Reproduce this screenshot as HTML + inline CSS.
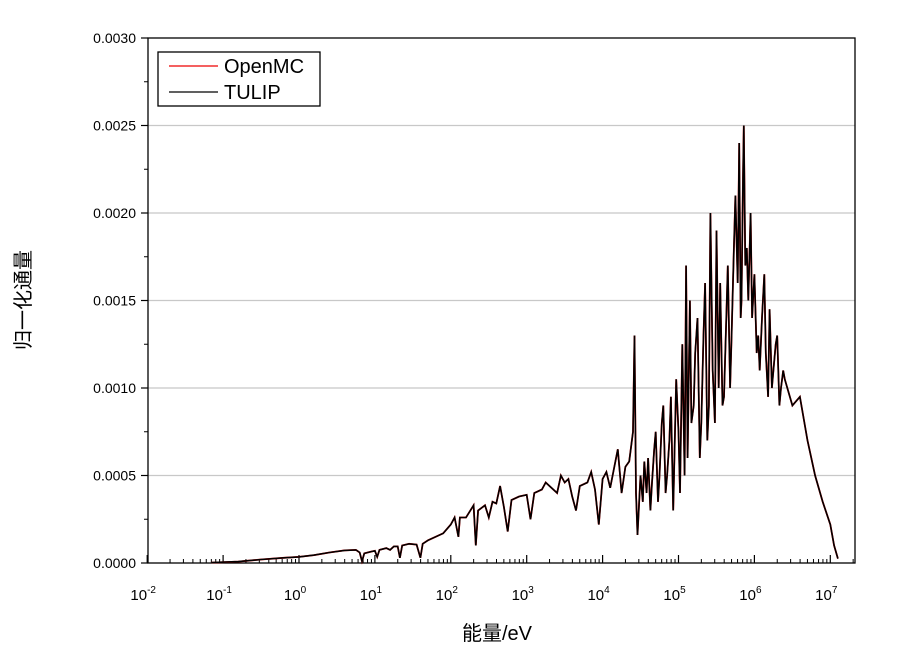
<!DOCTYPE html>
<html><head><meta charset="utf-8"><style>
body{margin:0;background:#fff;}
svg{display:block;font-family:"Liberation Sans","Noto Sans CJK SC",sans-serif;}
</style></head><body>
<svg id="chart" width="914" height="651" viewBox="0 0 914 651">
<g id="grid"></g><g id="axes"></g><g id="series"></g>
<g>
<rect x="158" y="52" width="162" height="54" fill="#fff" stroke="#000" stroke-width="1.3"/>
<line x1="169" y1="66" x2="218" y2="66" stroke="#e00" stroke-width="1.2"/>
<text x="224" y="73" font-size="20">OpenMC</text>
<line x1="169" y1="92" x2="218" y2="92" stroke="#000" stroke-width="1.2"/>
<text x="224" y="99" font-size="20">TULIP</text>
</g>
<text x="497" y="640" font-size="20" text-anchor="middle">能量/eV</text>
<text transform="translate(30,300) rotate(-90)" font-size="20" text-anchor="middle">归一化通量</text>
</svg>
<script>
const logE=[-1.15,-0.8,-0.5,-0.2,0,0.2,0.4,0.6,0.75,0.8,0.83,0.86,0.95,1.0,1.03,1.06,1.15,1.2,1.25,1.3,1.33,1.36,1.45,1.55,1.6,1.63,1.7,1.8,1.9,2.0,2.05,2.1,2.12,2.2,2.3,2.33,2.36,2.45,2.5,2.55,2.6,2.65,2.7,2.75,2.8,2.9,3.0,3.05,3.1,3.2,3.25,3.3,3.4,3.45,3.5,3.55,3.6,3.65,3.7,3.8,3.85,3.9,3.95,4.0,4.05,4.1,4.15,4.2,4.25,4.3,4.35,4.4,4.42,4.44,4.46,4.5,4.53,4.55,4.58,4.6,4.63,4.65,4.68,4.7,4.73,4.75,4.78,4.8,4.83,4.85,4.88,4.9,4.93,4.97,5.0,5.02,5.05,5.08,5.1,5.12,5.15,5.17,5.2,5.22,5.25,5.28,5.3,5.33,5.35,5.38,5.4,5.42,5.45,5.48,5.5,5.53,5.55,5.58,5.6,5.63,5.65,5.68,5.7,5.73,5.75,5.78,5.8,5.82,5.83,5.85,5.86,5.88,5.9,5.92,5.95,5.97,6.0,6.03,6.05,6.07,6.1,6.13,6.15,6.18,6.2,6.23,6.25,6.28,6.3,6.33,6.35,6.38,6.4,6.5,6.6,6.7,6.8,6.9,7.0,7.05,7.1];
const tulip=[0.02,0.08,0.2,0.3,0.35,0.45,0.6,0.72,0.75,0.6,0.1,0.55,0.65,0.7,0.35,0.75,0.85,0.75,0.95,0.95,0.3,1.0,1.1,1.05,0.3,1.1,1.3,1.5,1.7,2.2,2.6,1.5,2.6,2.6,3.3,1.0,3.0,3.3,2.6,3.5,3.4,4.4,3.2,1.8,3.6,3.8,3.9,2.5,4.0,4.2,4.6,4.4,4.0,5.0,4.6,4.8,3.8,3.0,4.4,4.6,5.2,4.2,2.2,4.8,5.2,4.3,5.4,6.5,4.0,5.5,5.8,7.5,13.0,4.0,1.6,5.0,3.5,5.8,4.0,6.0,3.0,4.5,6.5,7.5,3.5,5.0,8.0,9.0,4.0,5.0,7.0,9.5,3.0,10.5,7.5,4.0,12.5,5.0,17.0,6.0,15.0,8.0,9.0,12.0,14.0,6.0,8.0,13.0,16.0,7.0,9.0,20.0,11.0,8.0,19.0,10.0,16.0,9.0,9.5,14.0,17.0,10.0,13.0,18.0,21.0,16.0,24.0,14.0,15.0,22.0,25.0,17.0,18.0,15.0,20.0,14.0,16.5,12.0,13.0,11.0,14.0,16.5,12.0,9.5,14.5,10.0,11.0,12.5,13.0,9.0,10.0,11.0,10.5,9.0,9.5,7.0,5.0,3.5,2.2,1.0,0.25,0.05,0];
const openmc=tulip.map(v=>v);
const yTicks=["0.0000","0.0005","0.0010","0.0015","0.0020","0.0025","0.0030"];
const xExps=[-2,-1,0,1,2,3,4,5,6,7];
const NS="http://www.w3.org/2000/svg";
const L=148,R=855,T=38,B=563;
const xs=l=>299+(l)*75.9;
const ys=v=>B-(v*1e-4)/0.003*(B-T);
function mk(tag,attrs,parent){const e=document.createElementNS(NS,tag);for(const k in attrs)e.setAttribute(k,attrs[k]);parent.appendChild(e);return e;}
const grid=document.getElementById('grid'),axes=document.getElementById('axes'),ser=document.getElementById('series');
yTicks.forEach((t,i)=>{const v=parseFloat(t)*1e4;const y=ys(v);
 if(i>0&&i<yTicks.length-1){const g=mk('line',{x1:L,x2:R,y1:y,y2:y,stroke:'#c8c8c8','stroke-width':1.3},grid);
 
 }
 const tk=mk('line',{x1:L-7,x2:L,y1:y,y2:y,stroke:'#000','stroke-width':1.2},axes);
 
 
 if(i<yTicks.length-1){const m=ys(v+2.5);const mt=mk('line',{x1:L-4,x2:L,y1:m,y2:m,stroke:'#000','stroke-width':1},axes);
 
 }
 const tx=mk('text',{x:L-12,y:y+5,'font-size':14,'text-anchor':'end'},axes);tx.textContent=t;
 
 
});
xExps.forEach(e=>{const x=xs(e);
 const tk=mk('line',{x1:x,x2:x,y1:B,y2:B-8,stroke:'#000','stroke-width':1.2},axes);
 
 
 for(let k=2;k<10;k++){const mx=xs(e+Math.log10(k));if(mx>R)break;const m=mk('line',{x1:mx,x2:mx,y1:B,y2:B-4,stroke:'#000','stroke-width':1},axes);
 
 }
 const tx=mk('text',{x:x-4,y:B+37,'font-size':15,'text-anchor':'middle'},axes);
 tx.innerHTML='10<tspan dy="-7" font-size="10">'+e+'</tspan>';
 
 
});
const frame=mk('rect',{x:L,y:T,width:R-L,height:B-T,fill:'none',stroke:'#000','stroke-width':1.3},axes);


function path(vals){return logE.map((l,i)=>(i?'L':'M')+xs(l).toFixed(1)+','+ys(vals[i]).toFixed(1)).join('');}
const p1=mk('path',{d:path(openmc),fill:'none',stroke:'#e00','stroke-width':1.8},ser);


const p2=mk('path',{d:path(tulip),fill:'none',stroke:'#000','stroke-width':1.6},ser);


</script>
</body></html>
